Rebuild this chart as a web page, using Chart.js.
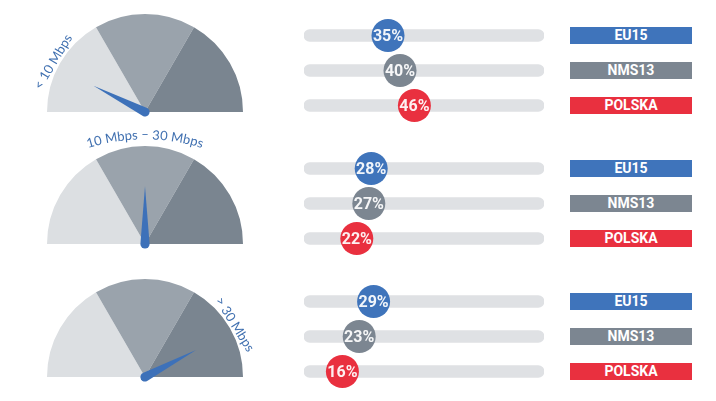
<!DOCTYPE html>
<html><head><meta charset="utf-8">
<script src="https://cdn.jsdelivr.net/npm/chart.js@4.4.1/dist/chart.umd.min.js"></script>
<style>
html,body{margin:0;padding:0;background:#fff;}
#wrap{position:relative;width:716px;height:401px;overflow:hidden;background:#fff;}
.box{position:absolute;}
.tag{position:absolute;left:570px;width:122px;height:17px;line-height:17px;text-align:center;color:#fff;font-family:Roboto,sans-serif;font-weight:bold;font-size:14px;}
svg{position:absolute;left:0;top:0;}
</style></head><body><div id="wrap"></div>
<script>
// ---- data ----
const speedBands = ['< 10 Mbps', '10 Mbps – 30 Mbps', '> 30 Mbps'];
const regions = ['EU15', 'NMS13', 'POLSKA'];
const eu15 = [35, 28, 29];
const nms13 = [40, 27, 23];
const polska = [46, 22, 16];
const needleShare = [0.15, 0.5, 0.845];
const bandSizes = [1, 1, 1];

// ---- styles ----
const regionColors = ['#3f74bb', '#7c8691', '#e9303f'];
const bandColors = ['#dcdfe2', '#9aa3ac', '#7a8590'];
const trackColor = '#dfe1e4';
const needleColor = '#3d71b9';
const labelColor = '#4070b0';

const wrap = document.getElementById('wrap');
function makeBox(left, top, w, h) {
  const d = document.createElement('div');
  d.className = 'box';
  d.style.left = left + 'px'; d.style.top = top + 'px';
  d.style.width = w + 'px'; d.style.height = h + 'px';
  const c = document.createElement('canvas');
  d.appendChild(c);
  wrap.appendChild(d);
  return c;
}

const needlePlugin = {
  id: 'needle',
  afterDatasetsDraw(chart, args, opts) {
    const arc = chart.getDatasetMeta(0).data[0];
    const cx = arc.x, cy = arc.y, r = arc.outerRadius;
    const a = Math.PI * (1 + opts.value);
    const len = r * 0.59, w = 4.6;
    const ctx = chart.ctx;
    ctx.save();
    ctx.fillStyle = needleColor;
    ctx.beginPath();
    ctx.moveTo(cx + len * Math.cos(a), cy + len * Math.sin(a));
    ctx.lineTo(cx + w * Math.cos(a + Math.PI / 2), cy + w * Math.sin(a + Math.PI / 2));
    ctx.arc(cx, cy, w, a + Math.PI / 2, a + 3 * Math.PI / 2);
    ctx.closePath();
    ctx.fill();
    ctx.restore();
  }
};

const pctPlugin = {
  id: 'pct',
  afterDatasetsDraw(chart) {
    const meta = chart.getDatasetMeta(0);
    const vals = chart.data.datasets[0].data;
    const ctx = chart.ctx;
    ctx.save();
    ctx.font = 'bold 16px Roboto, sans-serif';
    ctx.fillStyle = 'rgba(255,255,255,0.93)';
    ctx.textAlign = 'center';
    ctx.textBaseline = 'middle';
    meta.data.forEach((p, i) => ctx.fillText(vals[i] + '%', p.x, p.y + 1));
    ctx.restore();
  }
};

const gaugeCenters = [112, 244, 377];
const rowTops = [18, 151, 283.5];

speedBands.forEach((band, g) => {
  // gauge
  const gc = makeBox(37, gaugeCenters[g] - 108, 216, 118);
  new Chart(gc, {
    type: 'pie',
    data: { labels: ['a', 'b', 'c'], datasets: [{ data: bandSizes, backgroundColor: bandColors, borderWidth: 0 }] },
    options: {
      responsive: true, maintainAspectRatio: false, animation: false, events: [],
      rotation: -90, circumference: 180,
      layout: { padding: 10, autoPadding: false },
      plugins: { legend: { display: false }, tooltip: { enabled: false }, needle: { value: needleShare[g] } }
    },
    plugins: [needlePlugin]
  });

  // bars
  const vals = [eu15[g], nms13[g], polska[g]];
  const bc = makeBox(280, rowTops[g] - 8, 288, 121);
  new Chart(bc, {
    type: 'bar',
    data: {
      labels: regions,
      datasets: [
        { type: 'line', data: vals, showLine: false, pointRadius: 16.5, pointHoverRadius: 16.5,
          pointBackgroundColor: regionColors, pointBorderWidth: 0, clip: false, order: 0 },
        { type: 'bar', data: [100, 100, 100], backgroundColor: trackColor, barThickness: 12,
          borderRadius: 6, borderSkipped: false, order: 1 }
      ]
    },
    options: {
      indexAxis: 'y', responsive: true, maintainAspectRatio: false, animation: false, events: [],
      layout: { padding: { left: 24, right: 24, top: 8, bottom: 8 }, autoPadding: false },
      scales: { x: { display: false, min: 0, max: 100 }, y: { display: false } },
      plugins: { legend: { display: false }, tooltip: { enabled: false } }
    },
    plugins: [pctPlugin]
  });

  // region tags
  regions.forEach((name, i) => {
    const t = document.createElement('div');
    t.className = 'tag';
    t.style.top = (rowTops[g] + 35 * i + 17.5 - 8.5) + 'px';
    t.style.background = regionColors[i];
    t.textContent = name;
    wrap.appendChild(t);
  });
});

// gauge labels
const NS = 'http://www.w3.org/2000/svg';
const svg = document.createElementNS(NS, 'svg');
svg.setAttribute('width', 716); svg.setAttribute('height', 401);
const defs = document.createElementNS(NS, 'defs');
const path = document.createElementNS(NS, 'path');
path.setAttribute('id', 'midArc');
path.setAttribute('d', 'M 55 162 A 190 190 0 0 1 235 162');
defs.appendChild(path);
svg.appendChild(defs);
function svgText(attrs) {
  const t = document.createElementNS(NS, 'text');
  for (const k in attrs) t.setAttribute(k, attrs[k]);
  t.setAttribute('fill', labelColor);
  t.setAttribute('font-family', 'Lato, sans-serif');
  t.setAttribute('font-size', '13');
  svg.appendChild(t);
  return t;
}
const t1 = svgText({ transform: 'translate(52.5,61.5) rotate(-59)', 'text-anchor': 'middle', 'dominant-baseline': 'central' });
t1.textContent = speedBands[0];
const t2 = svgText({ 'text-anchor': 'middle' });
const tp = document.createElementNS(NS, 'textPath');
tp.setAttribute('href', '#midArc');
tp.setAttribute('startOffset', '50%');
tp.textContent = speedBands[1];
t2.appendChild(tp);
const t3 = svgText({ transform: 'translate(235.5,324) rotate(58)', 'text-anchor': 'middle', 'dominant-baseline': 'central' });
t3.textContent = speedBands[2];
wrap.appendChild(svg);
</script></body></html>
